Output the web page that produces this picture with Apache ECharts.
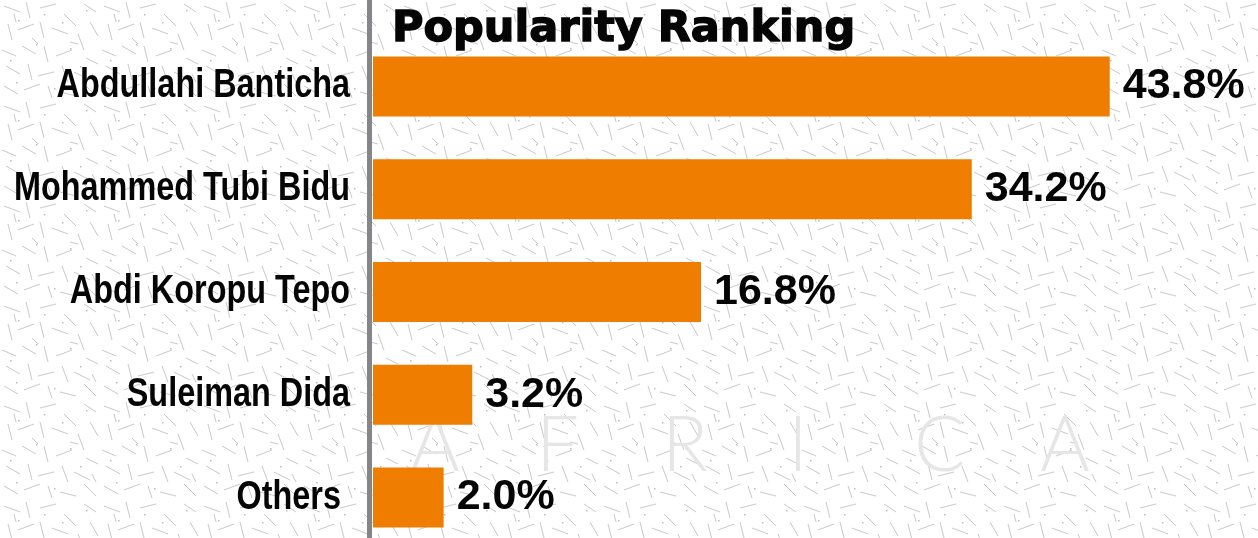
<!DOCTYPE html>
<html>
<head>
<meta charset="utf-8">
<script src="https://cdn.jsdelivr.net/npm/echarts@6/dist/echarts.min.js"></script>
<style>
  html, body { margin: 0; padding: 0; background: #ffffff; }
  #chart { width: 1258px; height: 538px; }
</style>
</head>
<body>
<div id="chart"></div>
<script>
// ---- data ----
const titleText = 'Popularity Ranking';
const candidates = ['Abdullahi Banticha', 'Mohammed Tubi Bidu', 'Abdi Koropu Tepo', 'Suleiman Dida', 'Others '];
const shares = [43.8, 34.2, 16.8, 3.2, 2.0];          // printed values (%)
const barLengths = [43.8, 35.6, 19.5, 5.9, 4.2];       // bar lengths as drawn in the picture (% axis units)
const watermarkLetters = ['A', 'F', 'R', 'I', 'C', 'A'];

// ---- faint dashed background texture (decoration) ----
(function () {
  const c = document.createElement('canvas');
  c.width = 100; c.height = 100;
  const g = c.getContext('2d');
  g.fillStyle = '#ffffff'; g.fillRect(0, 0, 100, 100);
  g.strokeStyle = '#c9c9c9'; g.lineWidth = 1;
  const segs = [
    [4,6,20,12],[26,2,30,18],[40,8,56,4],[64,14,76,26],[84,4,96,12],
    [8,24,12,40],[18,30,34,24],[40,22,44,38],[52,28,68,34],[78,34,84,50],[90,22,98,36],
    [2,50,16,56],[22,46,36,54],[44,46,48,62],[56,56,72,50],[86,58,98,64],
    [6,66,20,74],[28,64,32,80],[38,76,54,72],[62,66,68,82],[74,72,90,80],
    [4,86,18,94],[24,90,40,84],[48,86,52,98],[60,92,76,96],[84,84,96,96],
    [14,14,16,22],[70,42,78,44],[32,38,38,44],[92,74,96,82]
  ];
  segs.forEach(s => { g.beginPath(); g.moveTo(s[0], s[1]); g.lineTo(s[2], s[3]); g.stroke(); });
  g.fillStyle = '#bdbdbd';
  [[18,20],[62,22],[36,44],[70,48],[16,82],[54,88],[86,10],[10,60],[80,66],[44,14]].forEach(p => g.fillRect(p[0], p[1], 1.5, 1.5));
  document.body.style.backgroundImage = 'url(' + c.toDataURL() + ')';
})();

const chart = echarts.init(document.getElementById('chart'), null, { renderer: 'canvas' });

const labelFont = 'bold 40px "Liberation Sans", sans-serif';

const option = {
  backgroundColor: 'transparent',
  animation: false,
  title: {
    text: titleText,
    left: 387,
    top: 3,
    textStyle: {
      fontFamily: '"DejaVu Sans", sans-serif',
      fontWeight: 'bold',
      fontSize: 43,
      color: '#050505',
      textBorderColor: '#050505',
      textBorderWidth: 1.4
    }
  },
  graphic: [
    {
      type: 'rect',
      shape: { x: 367, y: 0, width: 5, height: 538 },
      style: { fill: '#86868a' },
      z: 10
    }
  ].concat(watermarkLetters.map((ch, i) => ({
    type: 'text',
    left: 410 + i * 126,
    top: 408,
    z: 0,
    silent: true,
    style: { text: ch, fill: '#e6e6e6', font: '300 76px Lato, "Open Sans", sans-serif' }
  }))),
  grid: {
    left: 373,
    top: 35,
    width: 841,
    height: 514,
    containLabel: false,
    outerBoundsMode: 'none'
  },
  xAxis: {
    type: 'value',
    min: 0,
    max: 50,
    show: false
  },
  yAxis: {
    type: 'category',
    inverse: true,
    data: candidates,
    axisLine: { show: false },
    axisTick: { show: false },
    splitLine: { show: false },
    axisLabel: { show: false }
  },
  series: [
    {
      type: 'bar',
      data: barLengths,
      barWidth: 60,
      itemStyle: { color: '#ef7d00' },
      label: {
        show: true,
        position: 'right',
        distance: 13,
        formatter: p => shares[p.dataIndex].toFixed(1) + '%',
        fontFamily: '"Liberation Sans", sans-serif',
        fontWeight: 'bold',
        fontSize: 43,
        color: '#050505'
      }
    },
    {
      // category names, drawn condensed at the category axis positions
      type: 'custom',
      clip: false,
      silent: true,
      data: candidates.map((c, i) => [0, i]),
      encode: { x: 0, y: 1 },
      renderItem: function (params, api) {
        const p = api.coord([0, api.value(1)]);
        return {
          type: 'text',
          x: p[0] - 23,
          y: p[1],
          scaleX: 0.81,
          style: {
            text: candidates[params.dataIndex],
            font: labelFont,
            fill: '#050505',
            textAlign: 'right',
            textVerticalAlign: 'middle'
          }
        };
      }
    }
  ]
};

chart.setOption(option);
</script>
</body>
</html>
